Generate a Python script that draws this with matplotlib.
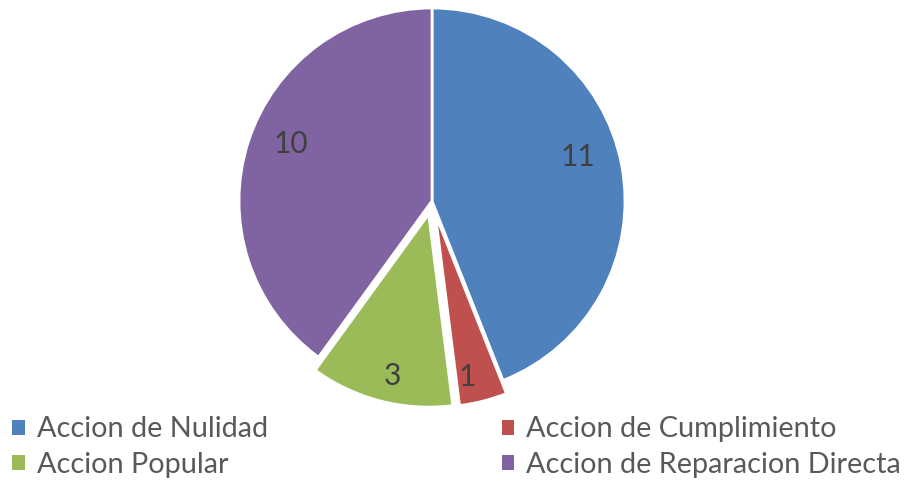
import matplotlib.pyplot as plt
import numpy as np

categories = ["Accion de Nulidad", "Accion de Cumplimiento", "Accion Popular", "Accion de Reparacion Directa"]
values = [11, 1, 3, 10]
colors = ["#4F81BD", "#C0504D", "#9BBB59", "#8064A2"]
explode = [0, 0.07, 0.07, 0]
label_dist = [0.79, 0.86, 0.86, 0.79]
label_shift = [6, -3, 1.5, -4]  # degrees, best-fit nudge

plt.rcParams['font.family'] = ['Lato', 'DejaVu Sans']

fig = plt.figure(figsize=(9.13, 4.82), dpi=100)
ax = fig.add_axes([(432 - 210) / 913, (482 - 201 - 210) / 482, 420 / 913, 420 / 482])

wedges, _ = ax.pie(values, colors=colors, explode=explode, startangle=90,
                   counterclock=False, radius=1,
                   wedgeprops=dict(edgecolor="white", linewidth=2))

# value labels inside each slice
for w, v, d, e, s in zip(wedges, values, label_dist, explode, label_shift):
    mid = np.deg2rad((w.theta1 + w.theta2) / 2 + s)
    r = d + e
    ax.text(r * np.cos(mid), r * np.sin(mid), str(v), ha="center", va="center",
            fontsize=21.5, color="#404040")

ax.set_xlim(-1.088, 1.088)
ax.set_ylim(-1.088, 1.088)
ax.set_aspect("equal")
ax.axis("off")

order = [0, 2, 1, 3]
leg = fig.legend([wedges[i] for i in order], [categories[i] for i in order],
                 ncol=2, loc="upper left", bbox_to_anchor=(-0.015, 0.19),
                 frameon=False, fontsize=20.8, labelcolor="#595959",
                 handlelength=0.43, handleheight=0.43, handletextpad=0.41,
                 columnspacing=8.1, labelspacing=0.33)
for h in leg.legend_handles:
    h.set_edgecolor("none")

fig.savefig("out.png", dpi=100)
